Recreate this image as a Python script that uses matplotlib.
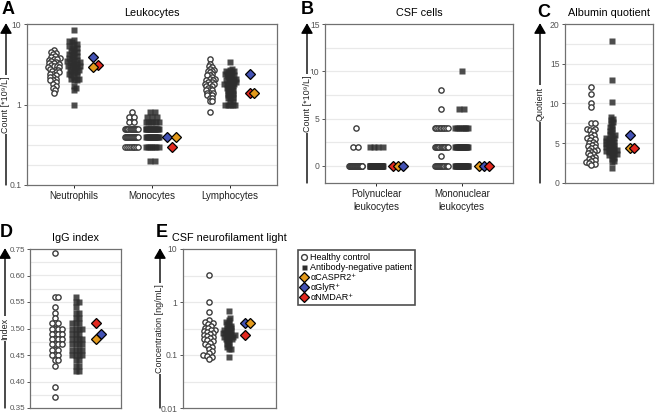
import numpy as np
import matplotlib
matplotlib.use("Agg")
import matplotlib.pyplot as plt
from matplotlib.lines import Line2D

plt.rcParams['font.family'] = ['Liberation Sans', 'DejaVu Sans']

# ---------------- data ----------------
A_categories = ["Neutrophils", "Monocytes", "Lymphocytes"]
A_hc = [
    [4.7, 4.5, 4.4, 4.3, 4.0, 3.9, 3.8, 3.7, 3.7, 3.6, 3.5, 3.4, 3.3, 3.3, 3.2, 3.1, 3.0, 3.0, 2.9, 2.9,
     2.8, 2.7, 2.7, 2.6, 2.5, 2.5, 2.4, 2.4, 2.3, 2.2, 2.2, 2.1, 2.0, 2.0, 1.9, 1.8, 1.7, 1.6, 1.5, 1.4],
    [0.8, 0.7, 0.7, 0.6, 0.6] + [0.5] * 13 + [0.4] * 14 + [0.3] * 8,
    [3.7, 3.2, 3.0, 2.9, 2.8, 2.7, 2.6, 2.6, 2.5, 2.4, 2.3, 2.3, 2.2, 2.1, 2.1, 2.0, 2.0, 1.9, 1.9, 1.8,
     1.8, 1.8, 1.7, 1.7, 1.6, 1.6, 1.5, 1.5, 1.5, 1.4, 1.4, 1.4, 1.3, 1.3, 1.3, 1.2, 1.2, 1.1, 1.1, 0.8],
]
A_ab = [
    [8.4, 6.3, 6.1, 5.9, 5.7, 5.5, 5.3, 5.1, 5.0, 4.8, 4.6, 4.5, 4.4, 4.2, 4.1, 4.0, 3.9, 3.8, 3.7, 3.6,
     3.5, 3.5, 3.4, 3.3, 3.2, 3.2, 3.1, 3.0, 3.0, 2.9, 2.9, 2.8, 2.7, 2.7, 2.6, 2.5, 2.5, 2.4, 2.3, 2.3,
     2.2, 2.1, 2.1, 2.0, 2.0, 1.7, 1.6, 1.5, 1.0],
    [0.8, 0.8, 0.7, 0.7, 0.7] + [0.6] * 6 + [0.5] * 15 + [0.4] * 14 + [0.3] * 7 + [0.2] * 2,
    [3.4, 2.8, 2.7, 2.6, 2.6, 2.5, 2.5, 2.4, 2.4, 2.3, 2.3, 2.2, 2.2, 2.1, 2.1, 2.0, 2.0, 2.0, 1.9, 1.9,
     1.9, 1.8, 1.8, 1.8, 1.7, 1.7, 1.7, 1.6, 1.6, 1.6, 1.5, 1.5, 1.5, 1.4, 1.4, 1.4, 1.3, 1.3, 1.3, 1.2,
     1.2, 1.2, 1.1, 1.1, 1.0, 1.0, 1.0, 1.0, 1.0],
]
A_caspr2 = [2.9, 0.4, 1.4]
A_glyr = [3.9, 0.4, 2.4]
A_nmdar = [3.1, 0.3, 1.4]

B_categories = ["Polynuclear\nleukocytes", "Mononuclear\nleukocytes"]
B_hc = [
    [0] * 35 + [2, 2, 4],
    [0] * 13 + [1] + [2] * 12 + [4] * 9 + [6, 8],
]
B_ab = [
    [0] * 45 + [2] * 4,
    [0] * 22 + [2] * 16 + [4] * 8 + [6, 6, 10],
]
B_caspr2 = [0, 0]
B_glyr = [0, 0]
B_nmdar = [0, 0]

C_hc = [12.1, 11.2, 10.0, 9.5, 7.6, 7.6, 6.8, 6.8, 6.7, 6.5, 6.2, 6.0, 5.8, 5.6, 5.5, 5.4, 5.2, 5.0, 4.9,
        4.8, 4.6, 4.5, 4.4, 4.2, 4.1, 4.0, 3.9, 3.8, 3.6, 3.5, 3.3, 3.2, 3.0, 2.9, 2.8, 2.6, 2.5, 2.4, 2.3]
C_ab = [17.8, 13.0, 10.2, 8.3, 8.1, 7.9, 7.7, 7.5, 7.2, 7.0, 6.8, 6.6, 6.4, 6.2, 6.0, 5.9, 5.7, 5.6, 5.5,
        5.4, 5.3, 5.2, 5.1, 5.0, 4.9, 4.8, 4.7, 4.6, 4.5, 4.4, 4.3, 4.2, 4.1, 4.0, 4.0, 3.9, 3.8, 3.7, 3.6,
        3.5, 3.4, 3.2, 3.0, 2.8, 2.6, 1.9]
C_caspr2 = [4.4]
C_glyr = [6.1]
C_nmdar = [4.4]

D_hc = [0.73, 0.56, 0.56, 0.54, 0.53, 0.52, 0.51, 0.51, 0.51, 0.50, 0.50, 0.50, 0.50, 0.49, 0.49, 0.49,
        0.49, 0.48, 0.48, 0.48, 0.48, 0.47, 0.47, 0.47, 0.47, 0.46, 0.46, 0.46, 0.45, 0.45, 0.45, 0.44,
        0.44, 0.43, 0.39, 0.37]
D_ab = [0.56, 0.55, 0.55, 0.54, 0.53, 0.53, 0.52, 0.52, 0.51, 0.51, 0.51, 0.50, 0.50, 0.50, 0.50, 0.49,
        0.49, 0.49, 0.48, 0.48, 0.48, 0.48, 0.47, 0.47, 0.47, 0.47, 0.46, 0.46, 0.46, 0.46, 0.45, 0.45,
        0.45, 0.45, 0.44, 0.44, 0.43, 0.43, 0.42, 0.42]
D_caspr2 = [0.48]
D_glyr = [0.49]
D_nmdar = [0.51]

E_hc = [3.3, 1.0, 0.65, 0.45, 0.42, 0.40, 0.38, 0.35, 0.33, 0.32, 0.30, 0.29, 0.28, 0.27, 0.26, 0.25,
        0.24, 0.23, 0.22, 0.21, 0.20, 0.19, 0.18, 0.17, 0.16, 0.15, 0.14, 0.13, 0.12, 0.11, 0.10, 0.095,
        0.09, 0.085]
E_ab = [0.68, 0.50, 0.46, 0.42, 0.40, 0.38, 0.36, 0.35, 0.33, 0.32, 0.31, 0.30, 0.29, 0.28, 0.27, 0.26,
        0.26, 0.25, 0.24, 0.24, 0.23, 0.22, 0.22, 0.21, 0.20, 0.20, 0.19, 0.18, 0.17, 0.16, 0.15, 0.14,
        0.13, 0.13, 0.09]
E_caspr2 = [0.40]
E_glyr = [0.40]
E_nmdar = [0.24]

legend_labels = ["Healthy control", "Antibody-negative patient", "αCASPR2⁺", "αGlyR⁺", "αNMDAR⁺"]

# ---------------- style ----------------
W, H = 658, 413
C_CIRC = "#3c3c3c"
C_SQ = "#2e2e2e"
C_OR = "#E39A1C"
C_BL = "#4352B4"
C_RD = "#E2281F"
GRID = "#e9e9e9"
SPINE = "#707070"
DMS = 5.6

fig = plt.figure(figsize=(W / 100, H / 100), dpi=100)


def rect(x0, y0, x1, y1):
    return [x0 / W, 1 - y1 / H, (x1 - x0) / W, (y1 - y0) / H]


def greedy(ypx, d):
    n = len(ypx)
    order = np.argsort(ypx, kind="stable")
    x = np.zeros(n)
    placed = []
    for i in order:
        yi = ypx[i]
        nb = [(x[j], ypx[j]) for j in placed if abs(ypx[j] - yi) < d]
        cands = [0.0]
        for xj, yj in nb:
            dx = np.sqrt(max(d * d - (yi - yj) ** 2, 0.0))
            cands += [xj + dx, xj - dx]
        cands = sorted(cands, key=lambda c: (abs(c), -c))
        for c in cands:
            if all((c - xj) ** 2 + (yi - yj) ** 2 >= d * d - 1e-6 for xj, yj in nb):
                x[i] = c
                break
        placed.append(i)
    return x


def rows(ypx, d, maxw):
    x = np.zeros(len(ypx))
    for v in np.unique(ypx):
        idx = np.where(ypx == v)[0]
        n = len(idx)
        if n < 2:
            continue
        sp = min(d, maxw / (n - 1))
        x[idx] = (np.arange(n) - (n - 1) / 2) * sp
    return x


def swarm(ax, center, values, d_px, maxw_px, mode="greedy"):
    vals = np.asarray(values, float)
    pts = ax.transData.transform(np.column_stack([np.full(len(vals), center), vals]))
    ypx = pts[:, 1]
    if mode == "rows":
        xoff = rows(ypx, d_px, maxw_px)
    else:
        de = d_px
        xoff = greedy(ypx, de)
        while 2 * np.max(np.abs(xoff)) > maxw_px and de > 0.8:
            de *= 0.93
            xoff = greedy(ypx, de)
    back = ax.transData.inverted().transform(np.column_stack([pts[:, 0] + xoff, ypx]))
    return back[:, 0], vals


def draw_group(ax, center, hc, ab, dia, off, mode="greedy"):
    x, y = swarm(ax, center + off[0], hc, 5.0, 13, mode)
    ax.plot(x, y, 'o', ms=3.8, mfc='white', mec=C_CIRC, mew=1.0, ls='none', zorder=3)
    x, y = swarm(ax, center + off[1], ab, 5.0, 13, mode)
    ax.plot(x, y, 's', ms=3.8, mfc=C_SQ, mec='none', alpha=0.85, ls='none', zorder=4)
    dv = [v for v, c in dia]
    cols = [c for v, c in dia]
    x, y = swarm(ax, center + off[2], dv, 9.0, 10, mode)
    for k, (xi, yi, ci) in enumerate(zip(x, y, cols)):
        ax.plot([xi], [yi], 'D', ms=DMS, mfc=ci, mec='black', mew=0.9, ls='none', zorder=5 + k * 0.1)


def style_axes(ax, ysize=6.2):
    for s in ax.spines.values():
        s.set_color(SPINE)
        s.set_linewidth(0.9)
    ax.tick_params(axis='y', labelsize=ysize, colors='#555555', length=2.5, width=0.7, pad=1.5)
    ax.tick_params(axis='x', labelsize=7, colors='#222222', length=2.5, width=0.7, pad=2)
    ax.tick_params(axis='y', which='minor', left=False)
    ax.set_axisbelow(True)


def hgrid(ax, ys):
    for yv in ys:
        ax.axhline(yv, color=GRID, lw=0.9, zorder=0)


def ylabel_arrow(ax, xpx, text):
    pos = ax.get_position()
    xf = xpx / W
    fig.patches.append(matplotlib.patches.FancyArrowPatch(
        (xf, pos.y0), (xf, pos.y1 + 0.002), transform=fig.transFigure,
        arrowstyle='-|>,head_length=0.62,head_width=0.36', mutation_scale=10,
        color='black', lw=1.0, shrinkA=0, shrinkB=0))
    fig.text(xf, (pos.y0 + pos.y1) / 2, text, rotation=90, ha='center', va='center',
             fontsize=6.5, color='#222222', zorder=10,
             bbox=dict(facecolor='white', edgecolor='none', pad=0.8))


def letter(xpx, ypx, s):
    fig.text(xpx / W, 1 - ypx / H, s, fontsize=13, fontweight='bold', ha='left', va='top')


# ---------------- A ----------------
axA = fig.add_axes(rect(27, 24, 277, 185))
axA.set_yscale('log')
axA.set_ylim(0.1, 10)
axA.set_xlim(0.4, 3.6)
style_axes(axA)
hgrid(axA, 10 ** np.arange(-0.75, 1.0, 0.25))
axA.set_yticks([0.1, 1, 10])
axA.set_yticklabels(["0.1", "1", "10"])
axA.set_xticks([1, 2, 3])
axA.set_xticklabels(A_categories)
modesA = ["greedy", "rows", "greedy"]
for i in range(3):
    dia = [(A_nmdar[i], C_RD), (A_glyr[i], C_BL), (A_caspr2[i], C_OR)]
    draw_group(axA, i + 1, A_hc[i], A_ab[i], dia, (-0.26, 0.0, 0.25), modesA[i])
axA.set_title("Leukocytes", fontsize=7.8, pad=6)
ylabel_arrow(axA, 6, "Count [*10⁹/L]")
letter(2, 1, "A")

# ---------------- B ----------------
axB = fig.add_axes(rect(325, 24, 513, 183))
axB.set_ylim(-1.8, 15)
axB.set_xlim(0.4, 2.6)
style_axes(axB)
hgrid(axB, np.arange(0, 15, 2.5))
axB.set_yticks([0, 5, 10, 15])
axB.set_xticks([1, 2])
axB.set_xticklabels(B_categories, linespacing=1.3)
B_dia_order = [
    [(B_nmdar[0], C_RD), (B_caspr2[0], C_OR), (B_glyr[0], C_BL)],
    [(B_caspr2[1], C_OR), (B_glyr[1], C_BL), (B_nmdar[1], C_RD)],
]
for i in range(2):
    draw_group(axB, i + 1, B_hc[i], B_ab[i], B_dia_order[i], (-0.24, 0.0, 0.26), "rows")
axB.set_title("CSF cells", fontsize=7.8, pad=6)
ylabel_arrow(axB, 307, "Count [*10⁹/L]")
letter(301, 1, "B")

# ---------------- C ----------------
axC = fig.add_axes(rect(565, 24, 653, 183))
axC.set_ylim(0, 20)
axC.set_xlim(0.4, 1.53)
style_axes(axC)
hgrid(axC, np.arange(2.5, 20, 2.5))
axC.set_yticks([0, 5, 10, 15, 20])
axC.set_xticks([])
draw_group(axC, 1, C_hc, C_ab, [(C_glyr[0], C_BL), (C_caspr2[0], C_OR), (C_nmdar[0], C_RD)],
           (-0.26, 0.0, 0.23))
axC.set_title("Albumin quotient", fontsize=7.8, pad=6)
ylabel_arrow(axC, 540, "Quotient")
letter(537, 4, "C")


# ---------------- D ----------------
def fwd(v):
    v = np.asarray(v, float)
    return np.where(v <= 0.6, v, 0.6 + (v - 0.6) / 3.0)


def inv(u):
    u = np.asarray(u, float)
    return np.where(u <= 0.6, u, 0.6 + (u - 0.6) * 3.0)


axD = fig.add_axes(rect(30, 249, 121, 408))
axD.set_yscale('function', functions=(fwd, inv))
axD.set_ylim(0.35, 0.75)
axD.set_xlim(0.42, 1.58)
style_axes(axD, ysize=5.8)
axD.tick_params(axis='y', pad=1.0)
hgrid(axD, list(np.arange(0.375, 0.601, 0.025)) + [0.675])
axD.set_yticks([0.35, 0.40, 0.45, 0.50, 0.55, 0.60, 0.75])
axD.set_yticklabels(["0.35", "0.40", "0.45", "0.50", "0.55", "0.60", "0.75"])
axD.yaxis.set_minor_locator(matplotlib.ticker.NullLocator())
axD.set_xticks([])
draw_group(axD, 1, D_hc, D_ab, [(D_nmdar[0], C_RD), (D_glyr[0], C_BL), (D_caspr2[0], C_OR)],
           (-0.26, 0.0, 0.26))
axD.set_title("IgG index", fontsize=7.8, pad=6)
ylabel_arrow(axD, 5, "Index")
letter(0, 224, "D")

# ---------------- E ----------------
axE = fig.add_axes(rect(183, 249, 276, 408))
axE.set_yscale('log')
axE.set_ylim(0.01, 10)
axE.set_xlim(0.42, 1.6)
style_axes(axE)
hgrid(axE, 10 ** np.arange(-1.5, 1.0, 0.5))
axE.set_yticks([0.01, 0.1, 1, 10])
axE.set_yticklabels(["0.01", "0.1", "1", "10"])
axE.set_xticks([])
draw_group(axE, 1, E_hc, E_ab, [(E_glyr[0], C_BL), (E_caspr2[0], C_OR), (E_nmdar[0], C_RD)],
           (-0.25, 0.0, 0.21))
axE.set_title("CSF neurofilament light", fontsize=7.8, pad=6)
ylabel_arrow(axE, 160, "Concentration [ng/mL]")
letter(156, 224, "E")

# ---------------- legend ----------------
handles = [
    Line2D([], [], marker='o', ls='none', ms=4.2, mfc='white', mec=C_CIRC, mew=1.0),
    Line2D([], [], marker='s', ls='none', ms=3.6, mfc=C_SQ, mec='none'),
    Line2D([], [], marker='D', ls='none', ms=DMS, mfc=C_OR, mec='black', mew=0.9),
    Line2D([], [], marker='D', ls='none', ms=DMS, mfc=C_BL, mec='black', mew=0.9),
    Line2D([], [], marker='D', ls='none', ms=DMS, mfc=C_RD, mec='black', mew=0.9),
]
leg = fig.legend(handles, legend_labels, loc='upper left', bbox_to_anchor=(298 / W, 1 - 250 / H),
                 fontsize=6.5, frameon=True, fancybox=False, handlelength=0.6, handletextpad=0.4,
                 labelspacing=0.1, borderpad=0.35, borderaxespad=0)
leg.get_frame().set_edgecolor('#222222')
leg.get_frame().set_linewidth(1.2)

fig.savefig("out.png", dpi=100)
